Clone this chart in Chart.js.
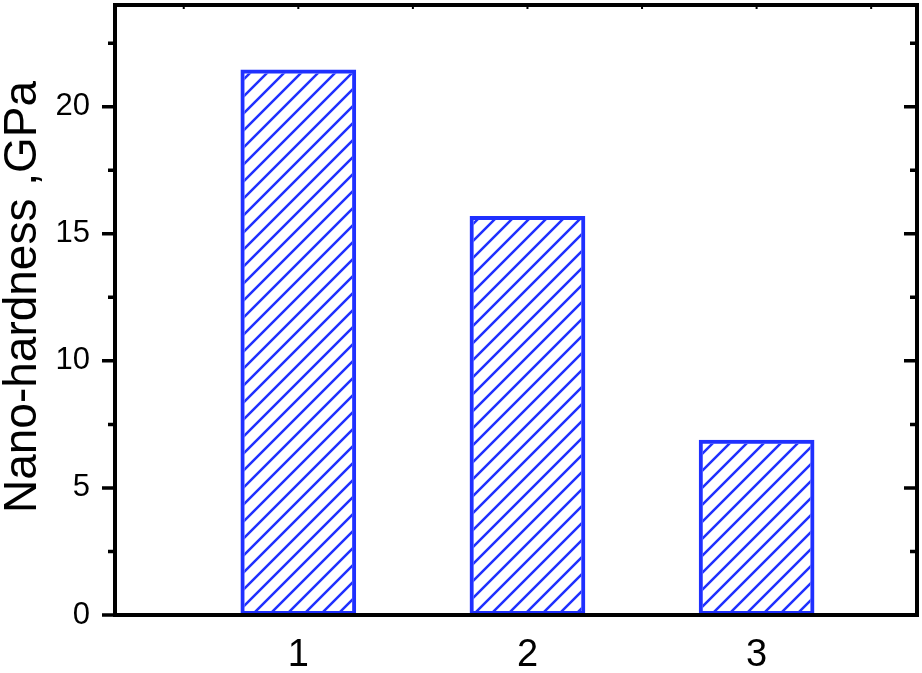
<!DOCTYPE html>
<html>
<head>
<meta charset="utf-8">
<title>Nano-hardness</title>
<script src="https://cdn.jsdelivr.net/npm/chart.js@4.4.1/dist/chart.umd.min.js"></script>
<style>
  html, body { margin: 0; padding: 0; background: #fff; }
  canvas { display: block; }
</style>
</head>
<body>
<canvas id="hardChart" width="922" height="673"></canvas>
<script>
// data
const samples = [1, 2, 3];
const hardness = [21.46, 15.70, 6.90];
const yTicks = [0, 5, 10, 15, 20];
const yMinorTicks = [2.5, 7.5, 12.5, 17.5, 22.5];
const topTicks = [0.5, 1, 1.5, 2, 2.5, 3, 3.5];
const yTitle = "Nano-hardness ,GPa";

const blue = "#1f30ff";
const font = "Liberation Sans";

const canvas = document.getElementById("hardChart");
const ctx = canvas.getContext("2d");

// "/" hatch fill
function makeHatch() {
  const s = 17;
  const tile = document.createElement("canvas");
  tile.width = s;
  tile.height = s;
  const g = tile.getContext("2d");
  g.strokeStyle = blue;
  g.lineWidth = 2.5;
  g.beginPath();
  g.moveTo(-2, s + 2); g.lineTo(s + 2, -2);
  g.moveTo(-2, 2); g.lineTo(2, -2);
  g.moveTo(s - 2, s + 2); g.lineTo(s + 2, s - 2);
  g.stroke();
  return ctx.createPattern(tile, "repeat");
}

// box frame + tick marks (left out, right in, small ones on top) + y title
const frame = {
  id: "frame",
  afterDatasetsDraw(chart) {
    const { ctx, chartArea: a, scales: { x, y } } = chart;
    ctx.save();
    ctx.strokeStyle = "#000";
    ctx.lineWidth = 3.5;
    ctx.beginPath();
    yTicks.forEach(v => {
      const py = y.getPixelForValue(v);
      ctx.moveTo(a.left - 13, py); ctx.lineTo(a.left, py);
      ctx.moveTo(a.right, py); ctx.lineTo(a.right - 13, py);
    });
    yMinorTicks.forEach(v => {
      const py = y.getPixelForValue(v);
      ctx.moveTo(a.left - 7, py); ctx.lineTo(a.left, py);
      ctx.moveTo(a.right, py); ctx.lineTo(a.right - 7, py);
    });
    ctx.stroke();
    ctx.lineWidth = 2;
    ctx.beginPath();
    topTicks.forEach(v => {
      const px = x.getPixelForValue(v);
      ctx.moveTo(px, a.top); ctx.lineTo(px, a.top + 4);
    });
    ctx.stroke();
    ctx.lineWidth = 4;
    ctx.strokeRect(a.left, a.top, a.right - a.left, a.bottom - a.top);

    // axis title, sits a little above the middle of the axis
    ctx.translate(35.5, (a.top + a.bottom) / 2 - 13);
    ctx.rotate(-Math.PI / 2);
    ctx.fillStyle = "#000";
    ctx.font = "46px '" + font + "'";
    ctx.textAlign = "center";
    ctx.textBaseline = "alphabetic";
    ctx.fillText(yTitle, 0, 0);
    ctx.restore();
  }
};

new Chart(canvas, {
  type: "bar",
  data: {
    datasets: [
      {
        data: samples.map((s, i) => ({ x: s, y: hardness[i] })),
        backgroundColor: makeHatch(),
        borderColor: blue,
        borderWidth: 4,
        borderSkipped: false,
        barPercentage: 0.505,
        categoryPercentage: 1
      }
    ]
  },
  options: {
    responsive: false,
    animation: false,
    devicePixelRatio: 1,
    layout: { padding: { top: 5, right: 5, left: 0, bottom: 0 } },
    plugins: { legend: { display: false }, tooltip: { enabled: false } },
    scales: {
      x: {
        type: "linear",
        offset: false,
        min: 0.2,
        max: 3.7,
        afterBuildTicks: s => { s.ticks = samples.map(v => ({ value: v })); },
        afterFit: s => { s.height = 58; s.paddingLeft = 0; s.paddingRight = 0; },
        grid: { display: false, drawTicks: false },
        border: { display: false },
        ticks: { padding: 18, color: "#000", font: { family: font, size: 38 } }
      },
      y: {
        min: 0,
        max: 24,
        afterBuildTicks: s => { s.ticks = yTicks.map(v => ({ value: v })); },
        afterFit: s => { s.width = 115; s.paddingTop = 0; s.paddingBottom = 0; },
        grid: { display: false, drawTicks: false },
        border: { display: false },
        ticks: { padding: 25, color: "#000", font: { family: font, size: 31 } }
      }
    }
  },
  plugins: [frame]
});
</script>
</body>
</html>
